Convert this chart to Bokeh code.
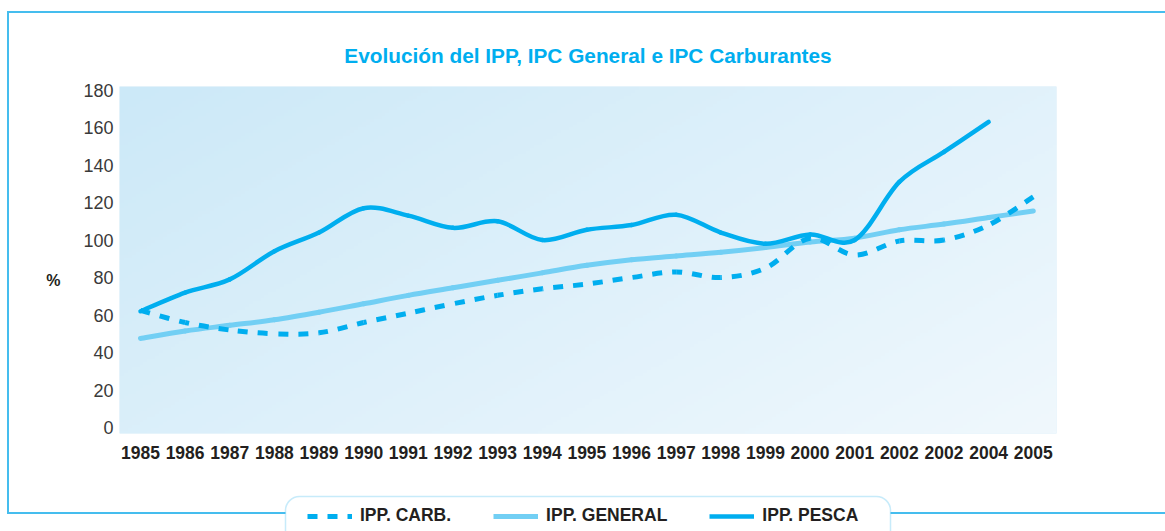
import numpy as np
from bokeh.plotting import figure
from bokeh.layouts import column
from bokeh.models import BoxAnnotation, Legend, LegendItem, FixedTicker, Range1d
from bokeh.embed import file_html
from bokeh.resources import INLINE

# ---- data ----
year_labels = ["1985", "1986", "1987", "1988", "1989", "1990", "1991", "1992", "1993", "1994",
               "1995", "1996", "1997", "1998", "1999", "2000", "2001", "2002", "2002", "2004", "2005"]
ipp_carb = [62.5, 56, 52, 50, 50.5, 56, 61, 66, 70.5, 74, 76.5, 80, 83, 80, 85, 101, 92, 99.5, 100, 108, 123]
ipp_general = [47.5, 51.5, 54.5, 57.5, 61.5, 66, 70.5, 74.5, 78.5, 82.5, 86.5, 89.5, 91.5, 93.5, 96, 99, 101,
               105.5, 108.5, 112, 115.5]
ipp_pesca = [62, 72, 79, 94, 104, 117, 113, 106.5, 110, 100, 105.5, 108, 113.5, 104, 98, 103, 100, 131, 147, 163]
y_ticks = [0, 20, 40, 60, 80, 100, 120, 140, 160, 180]

title_text = "Evolución del IPP, IPC General e IPC Carburantes"
y_label = "%"
legend_labels = ["IPP. CARB.", "IPP. GENERAL", "IPP. PESCA"]

# ---- style ----
CYAN = "#00aeef"
LIGHT = "#72cff4"
FRAME = "#45bdee"
TEXT = "#231f20"
FONT = "Liberation Sans"

x_lo, x_hi = -0.47, 20.52
y_lo, y_hi = -3.2, 181.9

W_PAGE = 1165
H1, H2 = 480, 51
BL, BR, BT, BB = 119, 109, 86, 47   # borders around the plot area
PX_X = (W_PAGE - BL - BR) / (x_hi - x_lo)
PX_Y = (H1 - BT - BB) / (y_hi - y_lo)

p = figure(width=W_PAGE, height=H1, x_range=Range1d(x_lo, x_hi), y_range=Range1d(y_lo, y_hi),
           output_backend="svg", toolbar_location=None,
           min_border_left=BL, min_border_right=BR, min_border_top=BT, min_border_bottom=BB)
p.outline_line_color = None
p.xgrid.grid_line_color = None
p.ygrid.grid_line_color = None
p.background_fill_color = "#d8eef9"
p.border_fill_color = None
line_css = f"linear-gradient({FRAME}, {FRAME})"
p.styles = {"background": f"{line_css} 7px 11px / calc(100% - 7px) 2px no-repeat, "
                          f"{line_css} 7px 11px / 2px calc(100% - 11px) no-repeat, white"}

# title
p.title.text = title_text
p.title.align = "center"
p.title.text_font = FONT
p.title.text_font_style = "bold"
p.title.text_font_size = "20.8px"
p.title.text_color = CYAN
p.title.standoff = 40

# gradient background inside plot area
GH, GW = 120, 240
img = np.empty((GH, GW), dtype=np.uint32)
view = img.view(dtype=np.uint8).reshape((GH, GW, 4))
c0 = np.array([204, 233, 248], dtype=float)
c1 = np.array([240, 248, 253], dtype=float)
cols = np.linspace(0, 1, GW)[None, :]
rows = np.linspace(0, 1, GH)[:, None]
t = (cols * 0.6 + (1 - rows) * 0.4)
for k in range(3):
    view[:, :, k] = (c0[k] * (1 - t) + c1[k] * t).astype(np.uint8)
view[:, :, 3] = 255
p.image_rgba(image=[img], x=x_lo, y=y_lo, dw=x_hi - x_lo, dh=y_hi - y_lo)

idx = list(range(len(year_labels)))


def smooth_segments(ys, dash_period=None):
    """Catmull-Rom curve through the data points, as cubic Bezier segments."""
    xs = np.array(idx[:len(ys)], dtype=float)
    ys = np.array(ys, dtype=float)
    n = len(xs)
    seg = dict(x0=[], y0=[], x1=[], y1=[], cx0=[], cy0=[], cx1=[], cy1=[], off=[])
    run = 0.0
    for i in range(n - 1):
        i0, i3 = max(i - 1, 0), min(i + 2, n - 1)
        cx0 = xs[i] + (xs[i + 1] - xs[i0]) / 6
        cy0 = ys[i] + (ys[i + 1] - ys[i0]) / 6
        cx1 = xs[i + 1] - (xs[i3] - xs[i]) / 6
        cy1 = ys[i + 1] - (ys[i3] - ys[i]) / 6
        seg["x0"].append(xs[i]); seg["y0"].append(ys[i])
        seg["x1"].append(xs[i + 1]); seg["y1"].append(ys[i + 1])
        seg["cx0"].append(cx0); seg["cy0"].append(cy0)
        seg["cx1"].append(cx1); seg["cy1"].append(cy1)
        seg["off"].append(int(round(run % dash_period)) if dash_period else 0)
        tt = np.linspace(0, 1, 25)
        bx = ((1 - tt) ** 3 * xs[i] + 3 * (1 - tt) ** 2 * tt * cx0 + 3 * (1 - tt) * tt ** 2 * cx1
              + tt ** 3 * xs[i + 1]) * PX_X
        by = ((1 - tt) ** 3 * ys[i] + 3 * (1 - tt) ** 2 * tt * cy0 + 3 * (1 - tt) * tt ** 2 * cy1
              + tt ** 3 * ys[i + 1]) * PX_Y
        run += float(np.sum(np.hypot(np.diff(bx), np.diff(by))))
    return seg


def draw_curve(ys, color, width, dash="solid", period=None):
    s = smooth_segments(ys, period)
    kw = dict(line_color=color, line_width=width, line_dash=dash)
    if period:
        kw["line_dash_offset"] = s["off"]
        kw["line_cap"] = "butt"
    else:
        kw["line_cap"] = "round"
    return p.bezier(x0=s["x0"], y0=s["y0"], x1=s["x1"], y1=s["y1"],
                    cx0=s["cx0"], cy0=s["cy0"], cx1=s["cx1"], cy1=s["cy1"], **kw)


draw_curve(ipp_general, LIGHT, 5)
draw_curve(ipp_carb, CYAN, 5, "10 10", 20)
draw_curve(ipp_pesca, CYAN, 4.5)

# axes
p.xaxis.ticker = FixedTicker(ticks=idx)
p.xaxis.major_label_overrides = {i: lab for i, lab in enumerate(year_labels)}
p.yaxis.ticker = FixedTicker(ticks=y_ticks)
for ax in (p.xaxis[0], p.yaxis[0]):
    ax.axis_line_color = None
    ax.major_tick_line_color = None
    ax.minor_tick_line_color = None
    ax.major_tick_out = 0
    ax.major_tick_in = 0
p.xaxis.major_label_text_font = FONT
p.xaxis.major_label_text_font_style = "bold"
p.xaxis.major_label_text_font_size = "17.5px"
p.xaxis.major_label_text_color = TEXT
p.xaxis.major_label_standoff = 12
p.yaxis.major_label_text_font = FONT
p.yaxis.major_label_text_font_size = "18px"
p.yaxis.major_label_text_color = "#3a3a3a"
p.yaxis.major_label_standoff = 6
p.yaxis.axis_label = "\n\n" + y_label
p.yaxis.axis_label_orientation = "horizontal"
p.yaxis.axis_label_text_font = FONT
p.yaxis.axis_label_text_font_style = "bold"
p.yaxis.axis_label_text_font_size = "16px"
p.yaxis.axis_label_text_color = TEXT
p.yaxis.axis_label_standoff = 20

# ---- legend strip (its plot area lines up with the chart's, in page pixels) ----
p2 = figure(width=W_PAGE, height=H2, x_range=Range1d(BL, W_PAGE - BR), y_range=Range1d(0, H2),
            output_backend="svg", toolbar_location=None, x_axis_type=None, y_axis_type=None,
            min_border=0, min_border_left=BL, min_border_right=BR, min_border_top=0, min_border_bottom=0)
p2.outline_line_color = None
p2.xgrid.grid_line_color = None
p2.ygrid.grid_line_color = None
p2.background_fill_color = None
p2.border_fill_color = None
p2.styles = {"background": f"{line_css} 7px 0px / 2px 34px no-repeat, "
                           f"{line_css} 7px 32px / calc(100% - 7px) 2px no-repeat, white"}

box_kw = dict(left=285, right=890, top=35, bottom=-20, fill_color="white", fill_alpha=1,
              line_color=FRAME, line_width=1.5)
if "border_radius" in BoxAnnotation.properties():
    box_kw["border_radius"] = 14
p2.add_layout(BoxAnnotation(**box_kw))

# legend sample renderers (same series, lying outside this strip's visible range)
l_carb = p2.line(idx, ipp_carb, line_color=CYAN, line_width=5, line_dash="10 10")
l_gen = p2.line(idx, ipp_general, line_color=LIGHT, line_width=5)
l_pes = p2.line(idx[:len(ipp_pesca)], ipp_pesca, line_color=CYAN, line_width=4.5)

legend = Legend(items=[LegendItem(label=legend_labels[0], renderers=[l_carb]),
                       LegendItem(label=legend_labels[1], renderers=[l_gen]),
                       LegendItem(label=legend_labels[2], renderers=[l_pes])],
                orientation="horizontal", location=(307 - BL, 5),
                glyph_width=45, glyph_height=20, label_height=20, label_standoff=8, spacing=42,
                padding=0, margin=0, background_fill_alpha=0, border_line_color=None,
                label_text_font=FONT, label_text_font_style="bold", label_text_font_size="17.5px",
                label_text_color=TEXT)
p2.add_layout(legend, "center")

layout = column(p, p2, spacing=0)
open("out.html", "w").write(file_html(layout, INLINE))
